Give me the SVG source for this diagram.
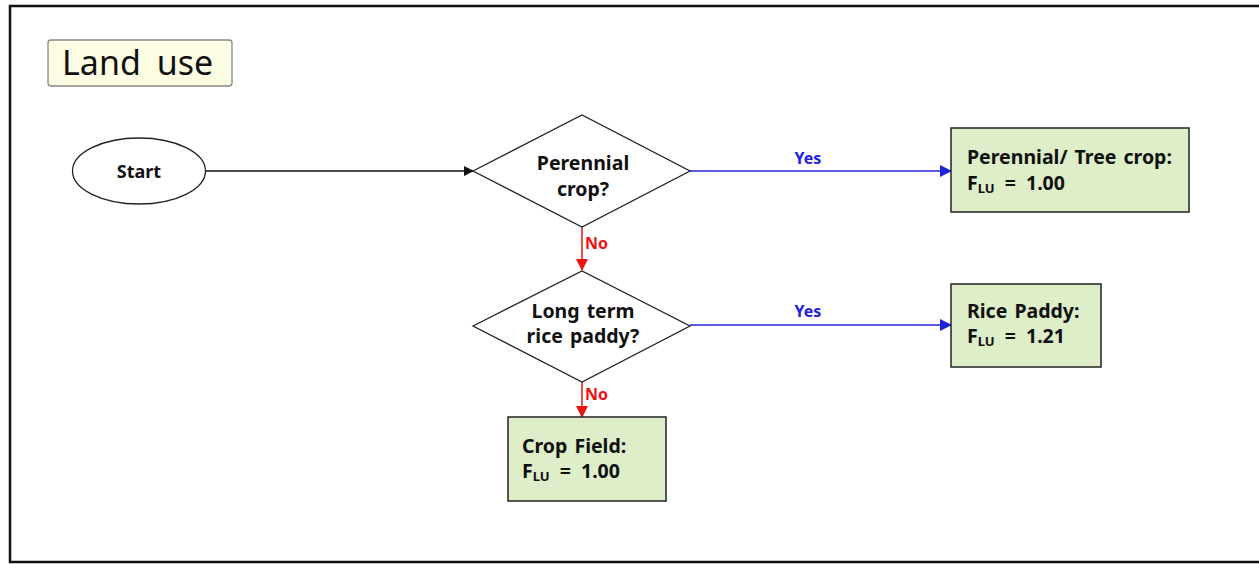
<svg xmlns="http://www.w3.org/2000/svg" width="1259" height="564" viewBox="0 0 1259 564">
  <style>
    .lbl { font-family: "Noto Sans", "Noto Sans CJK KR", sans-serif; font-weight: bold; font-size: 19.5px; word-spacing: 2px; fill: #111; }
    .fv { word-spacing: 5px; }
    .node { fill: #fff; stroke: #222; stroke-width: 1.3; }
    .result { fill: #DDEEC8; stroke: #222; stroke-width: 1.5; }
    .edge { fill: none; stroke-width: 1.5; }
    .yes { font-family: "Noto Sans", sans-serif; font-weight: bold; font-size: 16px; fill: #2222DD; }
    .no { font-family: "Noto Sans", sans-serif; font-weight: bold; font-size: 16px; fill: #EE1111; }
  </style>
  <defs>
    <marker id="arrBlack" markerWidth="10" markerHeight="10" refX="9" refY="5" orient="auto" markerUnits="userSpaceOnUse">
      <path d="M0,0 L10,5 L0,10 z" fill="#111"/>
    </marker>
    <marker id="arrBlue" markerWidth="12" markerHeight="12" refX="11" refY="6" orient="auto" markerUnits="userSpaceOnUse">
      <path d="M0,0 L12,6 L0,12 z" fill="#2222DD"/>
    </marker>
    <marker id="arrRed" markerWidth="12" markerHeight="12" refX="11" refY="6" orient="auto" markerUnits="userSpaceOnUse">
      <path d="M0,0 L12,6 L0,12 z" fill="#EE1111"/>
    </marker>
  </defs>

  <rect width="1259" height="564" fill="#fff"/>
  <!-- outer frame -->
  <rect x="10" y="6" width="1260" height="556" fill="none" stroke="#111" stroke-width="2.5"/>

  <!-- title -->
  <g id="title">
    <rect x="48" y="40" width="184" height="46" rx="3" fill="#FDFDE4" stroke="#888" stroke-width="1.3"/>
    <text x="62" y="75" font-family="Noto Sans, sans-serif" font-size="34" word-spacing="7" fill="#111">Land use</text>
  </g>

  <!-- connectors -->
  <g id="connectors">
    <line class="edge" x1="206" y1="171" x2="473" y2="171" stroke="#111" marker-end="url(#arrBlack)"/>
    <line class="edge" x1="690" y1="171" x2="951" y2="171" stroke="#2222DD" marker-end="url(#arrBlue)"/>
    <text class="yes" x="808" y="164" text-anchor="middle">Yes</text>
    <line class="edge" x1="690" y1="325" x2="951" y2="325" stroke="#2222DD" marker-end="url(#arrBlue)"/>
    <text class="yes" x="808" y="317" text-anchor="middle">Yes</text>
    <line class="edge" x1="582" y1="227" x2="582" y2="270" stroke="#EE1111" marker-end="url(#arrRed)"/>
    <text class="no" x="585" y="249">No</text>
    <line class="edge" x1="582" y1="382" x2="582" y2="417" stroke="#EE1111" marker-end="url(#arrRed)"/>
    <text class="no" x="585" y="400">No</text>
  </g>

  <!-- start -->
  <g id="start">
    <ellipse class="node" cx="139" cy="171" rx="66.5" ry="33"/>
    <text class="lbl" x="139" y="178" font-size="18" text-anchor="middle" style="font-size:18px">Start</text>
  </g>

  <!-- decision: perennial crop -->
  <g id="perennial">
    <polygon class="node" points="473,171 582,115 690,171 582,227"/>
    <text class="lbl" x="583" y="170" text-anchor="middle">Perennial</text>
    <text class="lbl" x="583" y="196" text-anchor="middle">crop?</text>
  </g>

  <!-- decision: long term rice paddy -->
  <g id="ricepaddy-q">
    <polygon class="node" points="473,326 582,271 690,326 582,382"/>
    <text class="lbl" x="583" y="318" text-anchor="middle">Long term</text>
    <text class="lbl" x="583" y="343" text-anchor="middle">rice paddy?</text>
  </g>

  <!-- result: perennial / tree crop -->
  <g id="tree-crop">
    <rect class="result" x="951" y="128" width="238" height="84"/>
    <text class="lbl" x="967" y="164">Perennial/ Tree crop:</text>
    <text class="lbl fv" x="967" y="190">F<tspan font-size="13" dy="3">LU</tspan><tspan dy="-3"> = 1.00</tspan></text>
  </g>

  <!-- result: rice paddy -->
  <g id="rice-paddy">
    <rect class="result" x="951" y="284" width="150" height="83"/>
    <text class="lbl" x="967" y="318">Rice Paddy:</text>
    <text class="lbl fv" x="967" y="343">F<tspan font-size="13" dy="3">LU</tspan><tspan dy="-3"> = 1.21</tspan></text>
  </g>

  <!-- result: crop field -->
  <g id="crop-field">
    <rect class="result" x="508" y="417" width="158" height="84"/>
    <text class="lbl" x="522" y="453">Crop Field:</text>
    <text class="lbl fv" x="522" y="478">F<tspan font-size="13" dy="3">LU</tspan><tspan dy="-3"> = 1.00</tspan></text>
  </g>
</svg>
